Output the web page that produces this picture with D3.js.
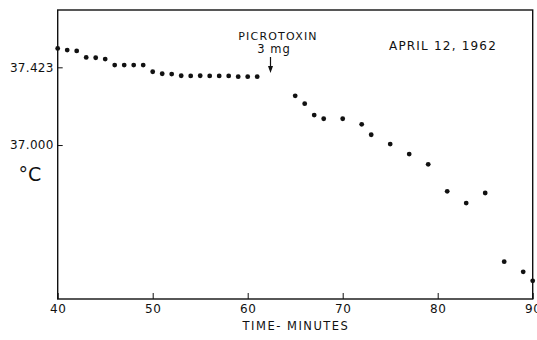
<!DOCTYPE html>
<html><head><meta charset="utf-8">
<script src="https://cdn.jsdelivr.net/npm/d3@7"></script>
<style>
html,body{margin:0;padding:0;background:#fff;}
text{font-family:"DejaVu Sans",sans-serif;fill:#111;}
</style></head>
<body><svg id="c" width="537" height="340"></svg>
<script>
const minutes = [40,41,42,43,44,45,46,47,48,49,50,51,52,53,54,55,56,57,58,59,60,61,
                 65,66,67,68,70,72,73,75,77,79,81,83,85,87,89,90];
const tempC = [37.526,37.517,37.512,37.477,37.475,37.468,37.435,37.435,37.435,37.435,37.399,37.388,37.386,37.377,37.376,37.377,37.376,37.376,37.376,37.372,37.372,37.372,
               37.268,37.225,37.163,37.143,37.143,37.113,37.056,37.005,36.951,36.895,36.748,36.684,36.739,36.365,36.310,36.261];
const xTicks = [40,50,60,70,80,90];
const yTicks = [37.000,37.423];
const yTickLabels = ["37.000","37.423"];
const injectionTime = 62.4;
const annotation = ["PICROTOXIN","3 mg"];
const dateLabel = "APRIL 12, 1962";
const xTitle = "TIME- MINUTES";
const yTitle = "°C";

const svg = d3.select("#c");
const L=57.7, R=532.7, T=10, B=299;
const x = d3.scaleLinear().domain([40,90]).range([L,R]);
const y = d3.scaleLinear().domain([36.162,37.735]).range([B,T]);

// frame
svg.append("rect").attr("x",L).attr("y",T).attr("width",R-L).attr("height",B-T)
  .attr("fill","none").attr("stroke","#111").attr("stroke-width",1.4);

// x axis
const xa = svg.append("g").attr("transform",`translate(0,${B})`)
  .call(d3.axisBottom(x).tickValues(xTicks).tickSize(-6).tickPadding(10).tickFormat(d3.format("d")));
xa.select(".domain").remove();
xa.selectAll("line").attr("stroke","#111").attr("stroke-width",1);
xa.selectAll("text").attr("font-size",12).attr("letter-spacing",0.5).attr("dy","0.35em").attr("y",10);

// y axis
const ya = svg.append("g").attr("transform",`translate(${L},0)`)
  .call(d3.axisLeft(y).tickValues(yTicks).tickSize(-5).tickPadding(4).tickFormat((d,i)=>yTickLabels[i]));
ya.select(".domain").remove();
ya.selectAll("line").attr("stroke","#111").attr("stroke-width",1);
ya.selectAll("text").attr("font-size",12).attr("letter-spacing",0.3);

// titles
svg.append("text").attr("x",296).attr("y",330).attr("text-anchor","middle")
  .attr("font-size",11.5).attr("letter-spacing",1.5).text(xTitle);
svg.append("text").attr("x",30).attr("y",181).attr("text-anchor","middle")
  .attr("font-size",19).text(yTitle);
svg.append("text").attr("x",443).attr("y",50).attr("text-anchor","middle")
  .attr("font-size",12).attr("letter-spacing",1.2).text(dateLabel);

// annotation
const ax = x(injectionTime);
svg.append("text").attr("x",278).attr("y",40).attr("text-anchor","middle")
  .attr("font-size",11).attr("letter-spacing",1.2).text(annotation[0]);
svg.append("text").attr("x",274).attr("y",53).attr("text-anchor","middle")
  .attr("font-size",11.5).attr("letter-spacing",1).text(annotation[1]);
svg.append("line").attr("x1",ax).attr("x2",ax).attr("y1",57).attr("y2",70)
  .attr("stroke","#111").attr("stroke-width",1.2);
svg.append("path").attr("d",`M${ax-2.5},${66} L${ax+2.5},${66} L${ax},${73} Z`).attr("fill","#111");

// points
svg.append("g").selectAll("circle").data(minutes).join("circle")
  .attr("cx",d=>x(d)).attr("cy",(d,i)=>y(tempC[i])).attr("r",2.4).attr("fill","#111");
</script></body></html>
